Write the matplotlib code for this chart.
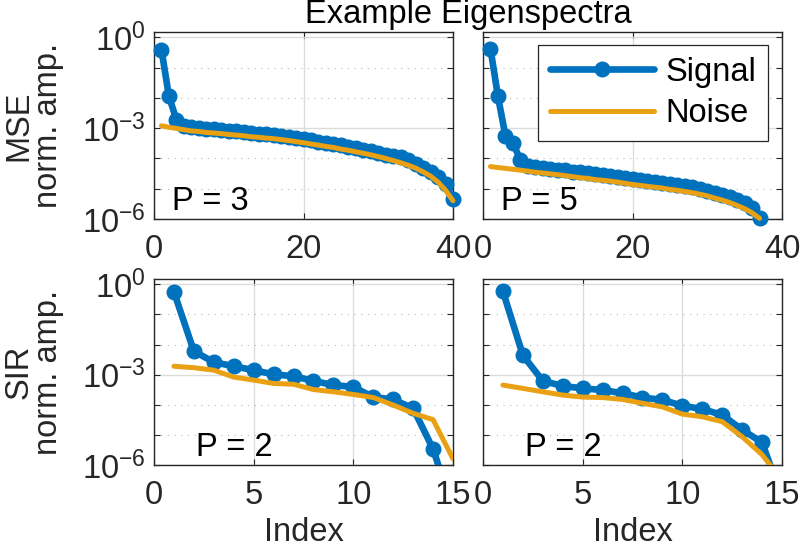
import numpy as np
import matplotlib
matplotlib.use("Agg")
import matplotlib.pyplot as plt
from matplotlib.ticker import FixedLocator, LogFormatterSciNotation, NullFormatter

plt.rcParams['font.family'] = ['Liberation Sans', 'DejaVu Sans']
plt.rcParams['mathtext.fontset'] = 'custom'
plt.rcParams['mathtext.rm'] = 'Liberation Sans'
plt.rcParams['mathtext.it'] = 'Liberation Sans:italic'
plt.rcParams['mathtext.bf'] = 'Liberation Sans:bold'

# ---------------- data ----------------
title = "Example Eigenspectra"
row_names = ["MSE", "SIR"]
p_labels = [["P = 3", "P = 5"], ["P = 2", "P = 2"]]
legend_labels = ["Signal", "Noise"]
x_label = "Index"

# MSE, P = 3 (40 components)
mse_p3_signal = [3.9e-1, 1.12e-2, 1.91e-3, 1.17e-3, 1.07e-3, 1.02e-3, 9.5e-4, 9.1e-4, 8.7e-4, 8.1e-4,
                 7.8e-4, 7.4e-4, 6.9e-4, 6.6e-4, 6.2e-4, 5.9e-4, 5.5e-4, 5.1e-4, 4.8e-4, 4.4e-4,
                 4.0e-4, 3.6e-4, 3.3e-4, 3.0e-4, 2.7e-4, 2.45e-4, 2.2e-4, 1.95e-4, 1.74e-4, 1.51e-4,
                 1.32e-4, 1.17e-4, 1.10e-4, 8.7e-5, 6.6e-5, 5.0e-5, 3.6e-5, 2.4e-5, 1.4e-5, 4.5e-6]
mse_p3_noise = [1.20e-3, 1.07e-3, 9.8e-4, 8.9e-4, 8.1e-4, 7.8e-4, 7.2e-4, 6.9e-4, 6.6e-4, 6.2e-4,
                5.9e-4, 5.6e-4, 5.2e-4, 5.0e-4, 4.7e-4, 4.5e-4, 4.2e-4, 3.9e-4, 3.6e-4, 3.3e-4,
                3.0e-4, 2.75e-4, 2.5e-4, 2.3e-4, 2.04e-4, 1.86e-4, 1.66e-4, 1.48e-4, 1.32e-4, 1.15e-4,
                1.0e-4, 8.5e-5, 7.2e-5, 6.0e-5, 4.8e-5, 3.6e-5, 2.6e-5, 1.66e-5, 8.9e-6, 4.0e-6]

# MSE, P = 5 (37 components)
mse_p5_signal = [4.2e-1, 1.12e-2, 5.6e-4, 3.3e-4, 8.9e-5, 5.6e-5, 5.2e-5, 4.9e-5, 4.6e-5, 4.3e-5,
                 4.0e-5, 3.7e-5, 3.5e-5, 3.2e-5, 3.0e-5, 2.8e-5, 2.6e-5, 2.45e-5, 2.24e-5, 2.04e-5,
                 1.9e-5, 1.78e-5, 1.66e-5, 1.55e-5, 1.41e-5, 1.32e-5, 1.2e-5, 1.1e-5, 9.8e-6, 8.5e-6,
                 7.4e-6, 6.3e-6, 5.2e-6, 4.3e-6, 3.3e-6, 2.3e-6, 1.07e-6]
mse_p5_noise = [5.4e-5, 5.0e-5, 4.7e-5, 4.4e-5, 4.1e-5, 3.8e-5, 3.5e-5, 3.3e-5, 3.1e-5, 2.9e-5,
                2.7e-5, 2.5e-5, 2.3e-5, 2.2e-5, 2.0e-5, 1.9e-5, 1.78e-5, 1.66e-5, 1.51e-5, 1.38e-5,
                1.29e-5, 1.20e-5, 1.12e-5, 1.05e-5, 9.5e-6, 8.9e-6, 8.1e-6, 7.4e-6, 6.6e-6, 5.8e-6,
                4.9e-6, 4.2e-6, 3.5e-6, 2.8e-6, 2.2e-6, 1.6e-6, 1.05e-6]

# SIR, P = 2 (15 components), left
sir_a_signal = [5.6e-1, 6.0e-3, 2.6e-3, 1.9e-3, 1.41e-3, 1.02e-3, 8.9e-4, 6.2e-4, 4.5e-4, 3.9e-4,
                1.8e-4, 1.5e-4, 7.6e-5, 3.4e-6, 3.2e-8]
sir_a_noise = [1.9e-3, 1.7e-3, 1.41e-3, 8.3e-4, 6.6e-4, 5.1e-4, 4.8e-4, 3.2e-4, 2.7e-4, 2.2e-4,
               1.74e-4, 9.8e-5, 5.2e-5, 3.2e-5, 1.6e-6]

# SIR, P = 2 (15 components), right
sir_b_signal = [5.8e-1, 4.4e-3, 6.2e-4, 4.2e-4, 3.5e-4, 3.1e-4, 2.4e-4, 1.74e-4, 1.45e-4, 9.3e-5,
                7.2e-5, 4.6e-5, 1.48e-5, 5.6e-6, 8.0e-8]
sir_b_noise = [4.5e-4, 3.5e-4, 2.7e-4, 2.1e-4, 1.8e-4, 1.74e-4, 1.5e-4, 1.12e-4, 8.5e-5, 4.9e-5,
               4.0e-5, 2.75e-5, 8.7e-6, 2.2e-6, 3.2e-7]

panels = [[(mse_p3_signal, mse_p3_noise), (mse_p5_signal, mse_p5_noise)],
          [(sir_a_signal, sir_a_noise), (sir_b_signal, sir_b_noise)]]
x_limits = [(0, 40), (0, 15)]
x_ticks = [[0, 20, 40], [0, 5, 10, 15]]
y_limits = (1e-6, 1.5)
y_major = [1e-6, 1e-3, 1e0]
y_minor = [1e-5, 1e-4, 1e-2, 1e-1]

# ---------------- style ----------------
W, H = 800, 549
FS = 23.5
SIG_C = '#0072BD'
NOI_C = '#E9A012'
AX_C = '#262626'

fig = plt.figure(figsize=(W / 100, H / 100), dpi=100)

lefts = [154, 483]
tops = [32, 279]
heights = [187, 186]
aw = 299

axes = []
for r in range(2):
    for c in range(2):
        ax = fig.add_axes([lefts[c] / W, (H - tops[r] - heights[r]) / H, aw / W, heights[r] / H])
        sig, noi = panels[r][c]
        xs = np.arange(1, len(sig) + 1)
        clip = (r == 0)
        ax.plot(xs, sig, color=SIG_C, lw=4.8, marker='o', ms=10.5, mec=SIG_C, mfc=SIG_C,
                solid_capstyle='round', solid_joinstyle='round', clip_on=not clip, zorder=3,
                label=legend_labels[0])
        ax.plot(np.arange(1, len(noi) + 1), noi, color=NOI_C, lw=3.6,
                solid_capstyle='round', solid_joinstyle='round', clip_on=not clip, zorder=4,
                label=legend_labels[1])
        ax.set_yscale('log')
        ax.set_ylim(*y_limits)
        ax.set_xlim(*x_limits[r])
        ax.set_xticks(x_ticks[r])
        ax.yaxis.set_major_locator(FixedLocator(y_major))
        ax.yaxis.set_minor_locator(FixedLocator(y_minor))
        ax.yaxis.set_minor_formatter(NullFormatter())
        if c == 0:
            ax.yaxis.set_major_formatter(LogFormatterSciNotation())
        else:
            ax.set_yticklabels([])
        ax.grid(True, which='major', color='#DCDCDC', lw=1.0, ls='-')
        ax.grid(True, which='minor', axis='y', color='#B8B8B8', lw=0.8, ls=(0, (1, 5)))
        ax.set_axisbelow(True)
        ax.tick_params(which='both', direction='in', top=True, right=True, length=4,
                       width=0.8, color=AX_C, labelcolor=AX_C, labelsize=FS)
        ax.tick_params(axis='x', pad=11)
        ax.tick_params(axis='y', pad=6)
        for s in ax.spines.values():
            s.set_color(AX_C)
            s.set_linewidth(1.0)
        ax.text(0.06 if r == 0 else 0.14, 0.05, p_labels[r][c], transform=ax.transAxes,
                fontsize=FS, color='black', ha='left', va='baseline', zorder=6)
        if c == 0:
            ax.set_ylabel(row_names[r] + "\nnorm. amp.", fontsize=FS, color=AX_C, linespacing=0.95)
            ax.yaxis.set_label_coords(-0.30, 0.5)
        if r == 1:
            ax.set_xlabel(x_label, fontsize=FS, color=AX_C)
            ax.xaxis.set_label_coords(0.5, -0.28)
            ax.xaxis.label.set_va('top')
        axes.append(ax)

leg = axes[1].legend(loc='upper right', bbox_to_anchor=(0.953, 0.93), borderaxespad=0,
                     fontsize=FS, frameon=True, fancybox=False, handlelength=3.2,
                     handletextpad=0.35, labelspacing=0.32, borderpad=0.36)
leg.get_frame().set_edgecolor(AX_C)
leg.get_frame().set_linewidth(0.9)
leg.get_frame().set_alpha(1)

fig.text(468 / W, 1 - 23 / H, title, fontsize=FS, ha='center', va='baseline', color='black')

fig.savefig('out.png', dpi=100)
